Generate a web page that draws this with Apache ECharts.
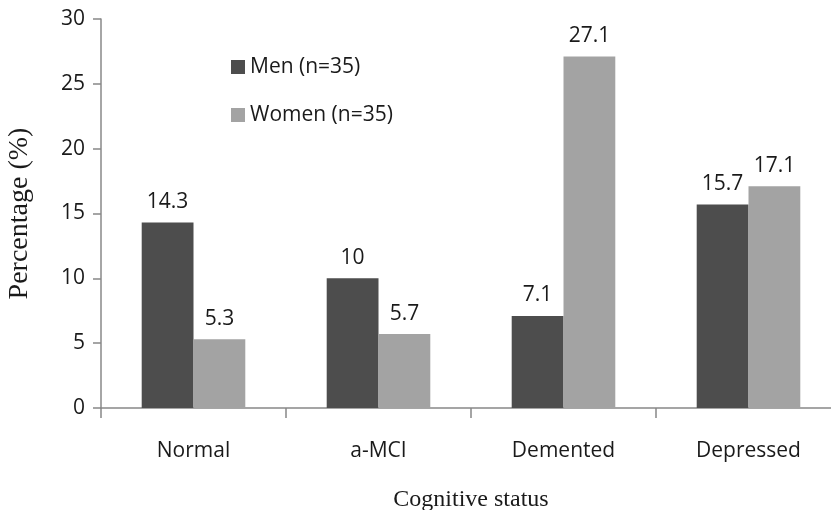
<!DOCTYPE html>
<html><head><meta charset="utf-8">
<script src="https://cdn.jsdelivr.net/npm/echarts@6/dist/echarts.min.js"></script>
<style>html,body{margin:0;padding:0;background:#fff}#c{width:831px;height:510px}</style>
</head><body><div id="c"></div>
<script>
const categories = ['Normal', 'a-MCI', 'Demented', 'Depressed'];
const men = [14.3, 10, 7.1, 15.7];
const women = [5.3, 5.7, 27.1, 17.1];
const seriesNames = ['Men (n=35)', 'Women (n=35)'];
const yTicks = {min: 0, max: 30, interval: 5};

const chart = echarts.init(document.getElementById('c'));
const sans = 'Open Sans';
const labelStyle = {show: true, position: 'top', distance: 10, color: '#1a1a1a', fontFamily: sans, fontSize: 21};
chart.setOption({
  animation: false,
  grid: {left: 101, top: 19, width: 740, height: 389, containLabel: false, outerBoundsMode: 'none'},
  legend: {
    orient: 'vertical', left: 226, top: 51, itemWidth: 14, itemHeight: 14, itemGap: 26,
    icon: 'rect',
    textStyle: {fontFamily: sans, fontSize: 21, lineHeight: 22, color: '#1a1a1a'},
    data: seriesNames
  },
  xAxis: {
    type: 'category', data: categories,
    name: 'Cognitive status', nameLocation: 'middle', nameGap: 80,
    nameTextStyle: {fontFamily: 'Liberation Serif', fontSize: 24, color: '#1a1a1a'},
    axisLine: {lineStyle: {color: '#888', width: 1.5}},
    axisTick: {show: true, length: 10, lineStyle: {color: '#888', width: 1.5}},
    axisLabel: {fontFamily: sans, fontSize: 21, color: '#1a1a1a', margin: 33}
  },
  yAxis: {
    type: 'value', min: yTicks.min, max: yTicks.max, interval: yTicks.interval,
    name: 'Percentage (%)', nameLocation: 'middle', nameGap: 67,
    nameTextStyle: {fontFamily: 'Liberation Serif', fontSize: 28, color: '#1a1a1a'},
    axisLine: {show: true, lineStyle: {color: '#888', width: 1.5}},
    axisTick: {show: true, length: 8, lineStyle: {color: '#888', width: 1.5}},
    axisLabel: {fontFamily: sans, fontSize: 21, color: '#1a1a1a', margin: 16},
    splitLine: {show: false}
  },
  series: [
    {name: seriesNames[0], type: 'bar', data: men, barGap: '0%', barCategoryGap: '44%',
     itemStyle: {color: '#4d4d4d'}, label: labelStyle},
    {name: seriesNames[1], type: 'bar', data: women,
     itemStyle: {color: '#a3a3a3'}, label: labelStyle}
  ]
});
</script></body></html>
